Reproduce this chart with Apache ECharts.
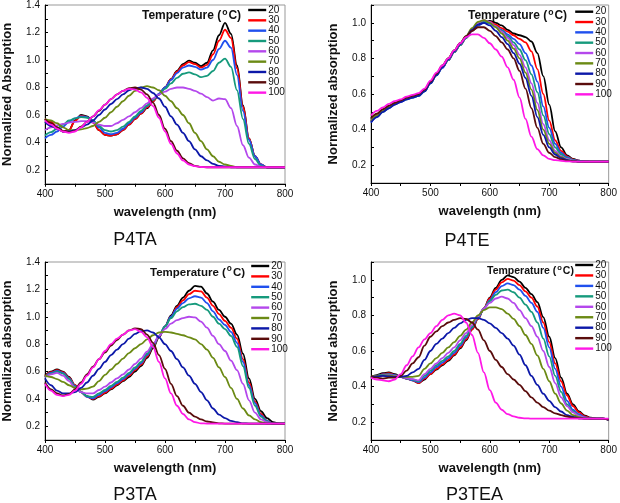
<!DOCTYPE html>
<html><head><meta charset="utf-8">
<script src="https://cdn.jsdelivr.net/npm/echarts@6/dist/echarts.min.js"></script>
<style>html,body{margin:0;padding:0;background:#fff}#c{width:620px;height:503px}</style>
</head><body><div id="c"></div>
<script>
// ---------- DATA ----------
const wavelength = [400,410,420,430,440,450,460,470,480,490,500,510,520,530,540,550,560,570,580,590,600,610,620,630,640,650,660,670,680,690,700,710,720,730,740,750,760,770,780,790,800];
const temperatures = ['20','30','40','50','60','70','80','90','100'];
const xTicks = [400,500,600,700,800];

// P4TA
const p4ta20 = [0.57,0.55,0.51,0.48,0.49,0.56,0.60,0.59,0.55,0.49, 0.455,0.45,0.46,0.49,0.53,0.57,0.61,0.65,0.70,0.75, 0.80,0.86,0.92,0.97,0.995,0.98,0.955,0.98,1.07,1.18, 1.27,1.19,0.96,0.67,0.43,0.30,0.24,0.22,0.22,0.22, 0.22];
const p4ta30 = [0.57,0.55,0.51,0.48,0.49,0.555,0.595,0.585,0.545,0.49, 0.455,0.45,0.46,0.49,0.53,0.57,0.61,0.655,0.70,0.75, 0.80,0.86,0.915,0.96,0.985,0.97,0.945,0.965,1.04,1.14, 1.22,1.16,0.94,0.66,0.43,0.30,0.24,0.22,0.22,0.22, 0.22];
const p4ta40 = [0.43,0.455,0.48,0.515,0.55,0.575,0.59,0.585,0.56,0.51, 0.47,0.46,0.47,0.50,0.54,0.58,0.62,0.665,0.71,0.755, 0.80,0.855,0.905,0.945,0.96,0.95,0.93,0.945,1.0,1.08, 1.14,1.09,0.89,0.63,0.42,0.30,0.24,0.22,0.22,0.22, 0.22];
const p4ta50 = [0.45,0.475,0.50,0.53,0.56,0.575,0.585,0.58,0.56,0.52, 0.49,0.48,0.49,0.515,0.55,0.59,0.63,0.67,0.71,0.75, 0.79,0.83,0.87,0.90,0.91,0.895,0.875,0.885,0.92,0.98, 1.01,0.95,0.78,0.57,0.39,0.28,0.23,0.22,0.22,0.22, 0.22];
const p4ta60 = [0.49,0.51,0.525,0.535,0.545,0.55,0.555,0.555,0.545,0.53, 0.52,0.52,0.54,0.565,0.59,0.62,0.65,0.685,0.72,0.75, 0.77,0.79,0.80,0.80,0.79,0.775,0.755,0.73,0.705,0.72, 0.715,0.65,0.52,0.38,0.29,0.24,0.225,0.22,0.22,0.22, 0.22];
const p4ta70 = [0.57,0.56,0.54,0.51,0.49,0.49,0.495,0.505,0.52,0.55, 0.58,0.62,0.66,0.70,0.74,0.775,0.80,0.81,0.80,0.78, 0.74,0.70,0.65,0.60,0.54,0.47,0.41,0.35,0.30,0.26, 0.24,0.23,0.22,0.22,0.22,0.22,0.22,0.22,0.22,0.22, 0.22];
const p4ta80 = [0.55,0.52,0.50,0.48,0.48,0.49,0.51,0.53,0.56,0.60, 0.64,0.68,0.715,0.75,0.78,0.795,0.80,0.79,0.76,0.72, 0.66,0.59,0.53,0.47,0.41,0.35,0.30,0.27,0.245,0.23, 0.225,0.22,0.22,0.22,0.22,0.22,0.22,0.22,0.22,0.22, 0.22];
const p4ta90 = [0.57,0.54,0.51,0.485,0.475,0.485,0.515,0.55,0.59,0.63, 0.675,0.715,0.75,0.775,0.795,0.80,0.785,0.75,0.69,0.60, 0.50,0.41,0.34,0.285,0.25,0.23,0.222,0.22,0.22,0.22, 0.22,0.22,0.22,0.22,0.22,0.22,0.22,0.22,0.22,0.22, 0.22];
const p4ta100 = [0.56,0.53,0.50,0.48,0.47,0.48,0.51,0.55,0.59,0.635, 0.675,0.715,0.75,0.775,0.79,0.785,0.765,0.725,0.665,0.58, 0.48,0.39,0.32,0.27,0.24,0.228,0.222,0.22,0.22,0.22, 0.22,0.22,0.22,0.22,0.22,0.22,0.22,0.22,0.22,0.22, 0.22];

// P4TE
const p4te20 = [0.46,0.485,0.51,0.53,0.545,0.56,0.575,0.585,0.595,0.62, 0.665,0.71,0.75,0.79,0.835,0.875,0.915,0.955,0.985,1.005, 1.01,1.0,0.985,0.96,0.94,0.93,0.92,0.895,0.83,0.70, 0.54,0.39,0.30,0.255,0.235,0.225,0.222,0.22,0.22,0.22, 0.22];
const p4te30 = [0.45,0.48,0.505,0.525,0.545,0.56,0.575,0.585,0.595,0.62, 0.665,0.71,0.75,0.79,0.835,0.875,0.915,0.955,0.985,1.005, 1.005,0.99,0.97,0.95,0.93,0.91,0.89,0.84,0.74,0.60, 0.45,0.34,0.28,0.25,0.232,0.225,0.22,0.22,0.22,0.22, 0.22];
const p4te40 = [0.44,0.47,0.50,0.52,0.54,0.555,0.57,0.58,0.59,0.615, 0.66,0.705,0.745,0.79,0.835,0.875,0.915,0.955,0.985,1.0, 0.995,0.98,0.96,0.935,0.91,0.88,0.83,0.76,0.67,0.53, 0.41,0.32,0.27,0.245,0.23,0.225,0.22,0.22,0.22,0.22, 0.22];
const p4te50 = [0.445,0.475,0.50,0.525,0.545,0.56,0.57,0.58,0.59,0.615, 0.66,0.705,0.75,0.79,0.835,0.875,0.915,0.96,0.99,1.005, 1.0,0.98,0.955,0.925,0.89,0.85,0.79,0.71,0.61,0.48, 0.375,0.30,0.26,0.24,0.228,0.222,0.22,0.22,0.22,0.22, 0.22];
const p4te60 = [0.45,0.48,0.505,0.525,0.545,0.56,0.575,0.585,0.595,0.62, 0.665,0.71,0.75,0.795,0.84,0.88,0.92,0.965,1.0,1.015, 1.005,0.98,0.95,0.915,0.875,0.82,0.75,0.66,0.55,0.43, 0.34,0.28,0.25,0.235,0.225,0.22,0.22,0.22,0.22,0.22, 0.22];
const p4te70 = [0.45,0.48,0.505,0.525,0.545,0.56,0.575,0.585,0.595,0.62, 0.665,0.71,0.755,0.80,0.845,0.885,0.925,0.97,1.005,1.015, 1.0,0.975,0.94,0.90,0.855,0.80,0.72,0.625,0.51,0.40, 0.32,0.27,0.245,0.23,0.222,0.22,0.22,0.22,0.22,0.22, 0.22];
const p4te80 = [0.44,0.47,0.50,0.52,0.54,0.555,0.57,0.58,0.59,0.615, 0.66,0.705,0.75,0.795,0.84,0.88,0.92,0.96,0.99,1.0, 0.985,0.955,0.92,0.88,0.83,0.77,0.69,0.59,0.47,0.37, 0.30,0.26,0.24,0.228,0.222,0.22,0.22,0.22,0.22,0.22, 0.22];
const p4te90 = [0.465,0.49,0.515,0.535,0.55,0.565,0.58,0.59,0.60,0.625, 0.67,0.715,0.76,0.80,0.845,0.885,0.925,0.955,0.975,0.975, 0.955,0.925,0.89,0.85,0.80,0.73,0.63,0.52,0.41,0.32, 0.27,0.245,0.232,0.225,0.222,0.22,0.22,0.22,0.22,0.22, 0.22];
const p4te100 = [0.48,0.505,0.525,0.545,0.56,0.57,0.585,0.595,0.605,0.63, 0.675,0.72,0.76,0.80,0.845,0.885,0.92,0.935,0.935,0.915, 0.885,0.85,0.81,0.75,0.68,0.58,0.46,0.36,0.29,0.255, 0.235,0.228,0.225,0.222,0.22,0.22,0.22,0.22,0.22,0.22, 0.22];

// P3TA
const p3ta20 = [0.57,0.60,0.615,0.60,0.56,0.50,0.45,0.42,0.395,0.415, 0.44,0.47,0.50,0.53,0.56,0.60,0.64,0.70,0.77,0.85, 0.93,1.01,1.08,1.14,1.19,1.225,1.22,1.17,1.11,1.05, 1.0,0.95,0.87,0.73,0.55,0.40,0.31,0.26,0.23,0.22, 0.22];
const p3ta30 = [0.565,0.595,0.61,0.595,0.555,0.50,0.45,0.415,0.40,0.42, 0.445,0.475,0.505,0.535,0.57,0.61,0.65,0.71,0.78,0.855, 0.93,1.0,1.07,1.12,1.165,1.19,1.185,1.14,1.08,1.02, 0.97,0.92,0.84,0.69,0.52,0.38,0.29,0.24,0.22,0.22, 0.22];
const p3ta40 = [0.56,0.59,0.605,0.59,0.55,0.495,0.45,0.415,0.405,0.43, 0.455,0.485,0.515,0.545,0.58,0.62,0.66,0.72,0.785,0.86, 0.93,1.0,1.06,1.10,1.135,1.15,1.14,1.10,1.04,0.98, 0.94,0.89,0.81,0.67,0.50,0.37,0.28,0.24,0.22,0.22, 0.22];
const p3ta50 = [0.56,0.585,0.60,0.585,0.545,0.49,0.45,0.42,0.415,0.44, 0.465,0.495,0.525,0.555,0.59,0.63,0.67,0.73,0.79,0.86, 0.93,0.99,1.04,1.07,1.09,1.095,1.08,1.05,1.0,0.95, 0.91,0.86,0.78,0.64,0.48,0.35,0.27,0.235,0.22,0.22, 0.22];
const p3ta60 = [0.56,0.58,0.59,0.57,0.53,0.48,0.45,0.44,0.44,0.465, 0.49,0.52,0.55,0.58,0.615,0.655,0.695,0.745,0.80,0.86, 0.91,0.95,0.975,0.99,1.0,0.995,0.965,0.92,0.86,0.80, 0.75,0.68,0.61,0.51,0.39,0.30,0.25,0.23,0.22,0.22, 0.22];
const p3ta70 = [0.57,0.56,0.545,0.525,0.50,0.48,0.47,0.475,0.49,0.53, 0.575,0.615,0.655,0.695,0.735,0.77,0.80,0.835,0.865,0.885, 0.89,0.885,0.875,0.865,0.85,0.835,0.80,0.76,0.70,0.63, 0.56,0.48,0.40,0.33,0.28,0.25,0.23,0.22,0.22,0.22, 0.22];
const p3ta80 = [0.55,0.50,0.46,0.44,0.44,0.45,0.48,0.52,0.57,0.62, 0.67,0.72,0.76,0.80,0.84,0.875,0.895,0.90,0.885,0.85, 0.80,0.75,0.69,0.63,0.57,0.51,0.45,0.39,0.33,0.285, 0.26,0.24,0.23,0.222,0.22,0.22,0.22,0.22,0.22,0.22, 0.22];
const p3ta90 = [0.52,0.47,0.44,0.425,0.435,0.47,0.52,0.58,0.635,0.69, 0.74,0.79,0.83,0.87,0.90,0.915,0.91,0.87,0.81,0.72, 0.62,0.51,0.42,0.35,0.30,0.27,0.25,0.235,0.228,0.222, 0.22,0.22,0.22,0.22,0.22,0.22,0.22,0.22,0.22,0.22, 0.22];
const p3ta100 = [0.51,0.46,0.43,0.42,0.43,0.46,0.51,0.57,0.63,0.69, 0.75,0.80,0.84,0.87,0.90,0.91,0.89,0.85,0.78,0.67, 0.55,0.44,0.35,0.29,0.25,0.23,0.222,0.22,0.22,0.22, 0.22,0.22,0.22,0.22,0.22,0.22,0.22,0.22,0.22,0.22, 0.22];

// P3TEA
const p3tea20 = [0.455,0.465,0.475,0.48,0.47,0.455,0.445,0.435,0.42,0.44, 0.47,0.495,0.52,0.545,0.575,0.615,0.66,0.72,0.78,0.84, 0.90,0.955,1.0,1.025,1.015,0.99,0.955,0.92,0.875,0.79, 0.68,0.56,0.45,0.36,0.30,0.26,0.237,0.225,0.22,0.22, 0.215];
const p3tea30 = [0.455,0.46,0.47,0.475,0.465,0.455,0.445,0.435,0.42,0.445, 0.47,0.50,0.525,0.55,0.58,0.62,0.665,0.72,0.78,0.84, 0.895,0.945,0.985,1.005,0.995,0.97,0.935,0.90,0.85,0.76, 0.65,0.53,0.43,0.35,0.29,0.255,0.232,0.222,0.22,0.22, 0.215];
const p3tea40 = [0.45,0.46,0.468,0.47,0.465,0.455,0.445,0.435,0.425,0.45, 0.48,0.51,0.535,0.56,0.59,0.63,0.675,0.73,0.785,0.835, 0.885,0.93,0.965,0.98,0.97,0.945,0.91,0.87,0.82,0.73, 0.62,0.50,0.40,0.32,0.27,0.245,0.228,0.22,0.22,0.22, 0.215];
const p3tea50 = [0.45,0.46,0.465,0.468,0.462,0.455,0.447,0.44,0.43,0.46, 0.49,0.52,0.545,0.57,0.60,0.64,0.685,0.735,0.79,0.84, 0.88,0.915,0.94,0.945,0.93,0.90,0.86,0.82,0.76,0.67, 0.57,0.46,0.37,0.30,0.26,0.237,0.225,0.22,0.22,0.22, 0.215];
const p3tea60 = [0.45,0.458,0.462,0.465,0.46,0.453,0.448,0.442,0.435,0.47, 0.50,0.53,0.56,0.59,0.62,0.66,0.70,0.745,0.795,0.84, 0.87,0.895,0.905,0.895,0.87,0.83,0.785,0.74,0.68,0.60, 0.51,0.42,0.34,0.29,0.255,0.235,0.225,0.22,0.22,0.22, 0.215];
const p3tea70 = [0.455,0.46,0.462,0.462,0.458,0.455,0.455,0.455,0.46,0.50, 0.53,0.56,0.59,0.62,0.65,0.685,0.72,0.76,0.80,0.83, 0.845,0.845,0.835,0.81,0.78,0.74,0.69,0.64,0.575,0.50, 0.43,0.36,0.305,0.265,0.24,0.228,0.222,0.22,0.22,0.22, 0.215];
const p3tea80 = [0.455,0.458,0.46,0.458,0.455,0.455,0.46,0.48,0.50,0.55, 0.60,0.64,0.67,0.70,0.73,0.755,0.775,0.785,0.785,0.775, 0.755,0.73,0.70,0.67,0.63,0.58,0.52,0.46,0.41,0.36, 0.32,0.285,0.26,0.24,0.23,0.222,0.22,0.22,0.22,0.22, 0.215];
const p3tea90 = [0.455,0.45,0.445,0.45,0.45,0.46,0.49,0.53,0.565,0.63, 0.68,0.71,0.74,0.76,0.775,0.785,0.78,0.76,0.72,0.66, 0.60,0.55,0.51,0.47,0.44,0.41,0.375,0.34,0.31,0.285, 0.265,0.25,0.24,0.232,0.226,0.222,0.22,0.22,0.22,0.22, 0.215];
const p3tea100 = [0.45,0.44,0.435,0.43,0.44,0.47,0.52,0.57,0.62,0.665, 0.70,0.74,0.775,0.80,0.81,0.80,0.76,0.69,0.59,0.48, 0.38,0.31,0.27,0.245,0.233,0.225,0.222,0.22,0.22,0.22, 0.22,0.22,0.22,0.22,0.22,0.22,0.22,0.22,0.22,0.22, 0.22];

const panelSeries = [
  [p4ta20,p4ta30,p4ta40,p4ta50,p4ta60,p4ta70,p4ta80,p4ta90,p4ta100],
  [p4te20,p4te30,p4te40,p4te50,p4te60,p4te70,p4te80,p4te90,p4te100],
  [p3ta20,p3ta30,p3ta40,p3ta50,p3ta60,p3ta70,p3ta80,p3ta90,p3ta100],
  [p3tea20,p3tea30,p3tea40,p3tea50,p3tea60,p3tea70,p3tea80,p3tea90,p3tea100]
];
const panelTitles = ['P4TA','P4TE','P3TA','P3TEA'];
const yAxisNames = ['Normalized Absorption','Normalized absorption','Normalized absorption','Normalized absorption'];
const yMaxValues = [1.4, 1.1, 1.4, 1.1];
const xAxisName = 'wavelength (nm)';

// ---------- STYLE / LAYOUT ----------
const colors = ['#000000','#ff0000','#2050ee','#169a7c','#b448ec','#6b8a14','#0c18a8','#5a0c0c','#ff18e6'];
const FONT = '"Liberation Sans", Arial, sans-serif';
const grids = [
  {left:45, top:5, width:240, height:178.75},
  {left:371, top:5, width:240, height:178},
  {left:45, top:262, width:240, height:178},
  {left:371, top:262, width:240, height:178}
];
const legendPos = [{left:247, top:5, gap:0.33},{left:574, top:6.7, gap:0.33},{left:250, top:261, gap:0.4},{left:574, top:260, gap:0.45}];
const tempLabelPos = [{x:142,y:15,fs:12},{x:468,y:15,fs:12},{x:150,y:272,fs:11.5},{x:487,y:270,fs:10.5}];
const titlePos = [[135,240],[467,241],[135,495],[474.5,495]];

const chart = echarts.init(document.getElementById('c'), null, {renderer:'canvas'});
const xAxes = [], yAxes = [], series = [], legends = [], graphics = [];

const badLen = [];
panelSeries.forEach((arrs, p) => {
  xAxes.push({
    type:'value', gridIndex:p, min:400, max:800, interval:50,
    axisLine:{show:true, onZero:false, lineStyle:{color:'#000', width:1}},
    axisTick:{show:true, inside:false, length:3, lineStyle:{color:'#000'}},
    splitLine:{show:false},
    axisLabel:{fontSize:10, color:'#111', fontFamily:FONT, margin:5,
      formatter: v => xTicks.indexOf(Math.round(v)) >= 0 ? String(Math.round(v)) : ''},
    name:xAxisName, nameLocation:'middle', nameGap:22,
    nameTextStyle:{fontSize:13, fontWeight:'bold', color:'#111', fontFamily:FONT}
  });
  yAxes.push({
    type:'value', gridIndex:p, min:0.1, max:yMaxValues[p], interval:0.1,
    axisLine:{show:true, onZero:false, lineStyle:{color:'#000', width:1}},
    axisTick:{show:true, inside:true, length:3, lineStyle:{color:'#000'}},
    splitLine:{show:false},
    axisLabel:{fontSize:10, color:'#111', fontFamily:FONT, margin:5,
      formatter: v => (Math.round(v*10) % 2 === 0) ? v.toFixed(1) : ''},
    name:yAxisNames[p], nameLocation:'middle', nameGap:31,
    nameTextStyle:{fontSize:13, fontWeight:'bold', color:'#111', fontFamily:FONT}
  });
  arrs.forEach((arr, j) => {
    if (arr.length !== wavelength.length) badLen.push(panelTitles[p]+'-'+temperatures[j]+':'+arr.length);
    series.push({
      type:'line', name:temperatures[j], xAxisIndex:p, yAxisIndex:p,
      data: wavelength.map((w,k) => [w, arr[k]]),
      symbol:'none', smooth:0.35, smoothMonotone:'x',
      lineStyle:{width:1.8, color:colors[j]}, itemStyle:{color:colors[j]},
      color:colors[j], silent:true
    });
  });
  const lp = legendPos[p];
  legends.push({
    orient:'vertical', left:lp.left, top:lp.top, padding:0,
    itemWidth:18, itemHeight:10, itemGap:lp.gap,
    data:temperatures,
    itemStyle:{opacity:0},
    lineStyle:{width:2.4},
    textStyle:{fontSize:10, lineHeight:10, color:'#111', fontFamily:FONT, padding:[0,0,0,-3]},
    selectedMode:false
  });
  const tp = tempLabelPos[p];
  graphics.push({
    type:'text', left:tp.x, top:tp.y - tp.fs*0.6,
    style:{
      text:'{b|Temperature (}{s|o}{b|C)}',
      rich:{
        b:{fontSize:tp.fs, fontWeight:'bold', fontFamily:FONT, fill:'#111', lineHeight:tp.fs+2, verticalAlign:'bottom'},
        s:{fontSize:tp.fs*0.72, fontWeight:'bold', fontFamily:FONT, fill:'#111', lineHeight:tp.fs*0.72, verticalAlign:'top', padding:[0,1,0,1]}
      }
    }
  });
  graphics.push({
    type:'text', x:titlePos[p][0], y:titlePos[p][1],
    style:{text:panelTitles[p], fontSize:18, fontFamily:FONT, fill:'#111', align:'center', verticalAlign:'middle'}
  });
});
if (badLen.length) graphics.push({type:'text', left:10, top:480, style:{text:'LEN '+badLen.join(' '), fill:'red', fontSize:10}});

chart.setOption({
  animation:false,
  backgroundColor:'#fff',
  grid: grids.map(g => Object.assign({show:true, borderColor:'#999', borderWidth:1, backgroundColor:'transparent'}, g)),
  xAxis:xAxes, yAxis:yAxes, series:series, legend:legends, graphic:graphics
});
</script></body></html>
